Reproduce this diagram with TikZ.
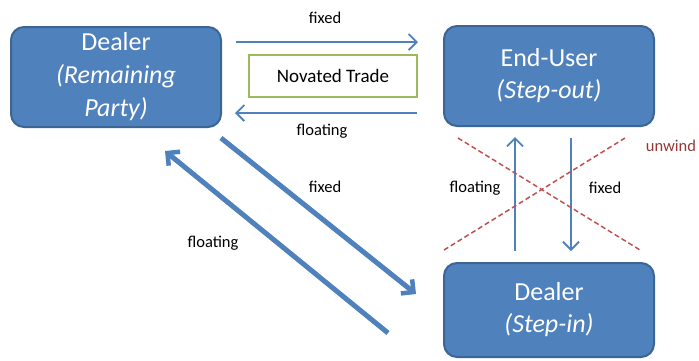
\documentclass[tikz,border=0pt]{standalone}
\usepackage{fontspec}
\setmainfont{Carlito}
\usetikzlibrary{arrows.meta}
\definecolor{boxblue}{HTML}{4F81BD}
\definecolor{boxedge}{HTML}{3A6595}
\definecolor{okgreen}{HTML}{9BBB59}
\definecolor{okred}{HTML}{C0504D}
\definecolor{darkred}{HTML}{953735}
\tikzset{
  party/.style={draw=boxedge, line width=2pt, fill=boxblue, rounded corners=13pt,
    minimum width=210pt, text=white, align=center, font=\fontsize{26}{32}\selectfont},
  thinarrow/.style={draw=boxblue, line width=1.8pt, -{Straight Barb[length=8pt,width=16pt,line width=1.8pt]}},
  thickarrow/.style={draw=boxblue, line width=5pt, -{Straight Barb[length=9pt,width=18pt,line width=4.5pt]}},
  lbl/.style={font=\fontsize{16.5}{18}\selectfont, text=black},
  unwindline/.style={draw=okred, line width=1.5pt, dash pattern=on 5pt off 3pt},
}
\begin{document}
\begin{tikzpicture}[x=1pt,y=-1pt]
\useasboundingbox (0,0) rectangle (699,360);
% boxes
\node[party, minimum height=100pt, font=\fontsize{26}{33}\selectfont] (rp) at (116,77) {Dealer\\\textit{(Remaining}\\\textit{Party)}};
\node[party, minimum height=100pt] (eu) at (549,76) {End-User\\\textit{(Step-out)}};
\node[party, minimum height=94pt] (si) at (549,310) {Dealer\\\textit{(Step-in)}};
\node[draw=okgreen, line width=1.8pt, minimum width=168pt, minimum height=42pt, font=\fontsize{19}{22}\selectfont] (nt) at (333,76) {Novated Trade};
% top arrows
\coordinate (f1s) at (236,42); \coordinate (f1e) at (418,42);
\coordinate (l1s) at (417,113); \coordinate (l1e) at (235,113);
\draw[thinarrow] (f1s) -- (f1e);
\draw[thinarrow] (l1s) -- (l1e);
\node[lbl] (lf1) at (325,18) {fixed};
\node[lbl] (ll1) at (322,131) {floating};
% diagonal arrows
\coordinate (d1s) at (221,138); \coordinate (d1e) at (416,294);
\coordinate (d2s) at (388,333); \coordinate (d2e) at (165,151);
\draw[thickarrow] (d1s) -- (d1e);
\draw[thickarrow] (d2s) -- (d2e);
\node[lbl] (lf2) at (325,187) {fixed};
\node[lbl] (ll2) at (213,243) {floating};
% vertical arrows
\coordinate (v1s) at (515,251); \coordinate (v1e) at (515,137);
\coordinate (v2s) at (571,138); \coordinate (v2e) at (571,251);
\draw[thinarrow] (v1s) -- (v1e);
\draw[thinarrow] (v2s) -- (v2e);
\node[lbl] (ll3) at (475,188) {floating};
\node[lbl] (lf3) at (605,188) {fixed};
% unwind cross
\coordinate (x1s) at (458,138); \coordinate (x1e) at (640,250);
\coordinate (x2s) at (444,250); \coordinate (x2e) at (625,138);
\draw[unwindline] (x1s) -- (x1e);
\draw[unwindline] (x2s) -- (x2e);
\node[lbl, text=darkred] (uw) at (671,146) {unwind};
\end{tikzpicture}
\end{document}
